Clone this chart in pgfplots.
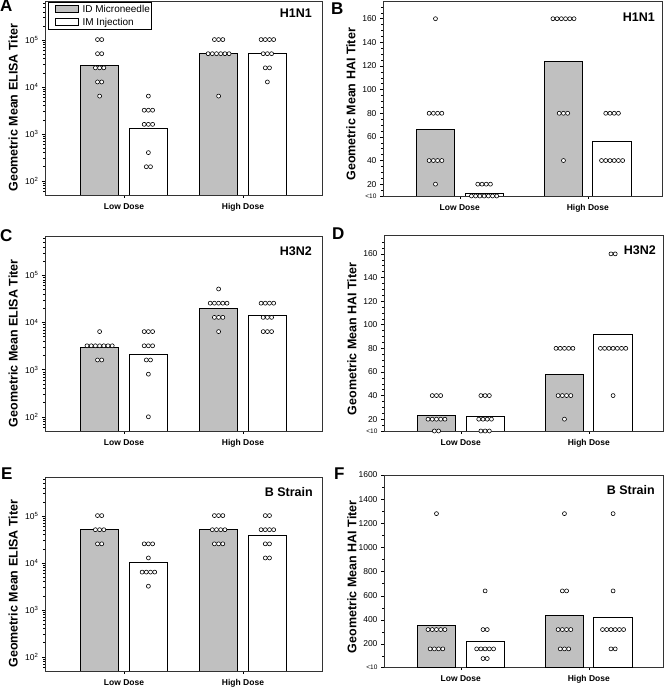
\documentclass[border=0pt]{standalone}
\usepackage{fontspec}
\setmainfont{Liberation Sans}
\usepackage{pgfplots}
\usepackage{pgfplotstable}
\pgfplotsset{compat=1.18}
\definecolor{barGray}{RGB}{192,192,192}
\newcommand\swatch[1]{{\setlength\fboxsep{0pt}\setlength\fboxrule{0.6pt}\fcolorbox{black}{#1}{\rule[-0.2pt]{0pt}{7pt}\hspace{22pt}}}}

% dot tables: g = dose (1 low, 2 high), s = -1 microneedle / +1 IM, k = position in row, y = titer
\pgfplotstableread{
g s k y
1 -1 -0.5 102400
1 -1 0.5 102400
1 -1 -0.5 51200
1 -1 0.5 51200
1 -1 -1 25600
1 -1 0 25600
1 -1 1 25600
1 -1 -0.5 12800
1 -1 0.5 12800
1 -1 0 6400
1 1 0 6400
1 1 -1 3200
1 1 0 3200
1 1 1 3200
1 1 -1 1600
1 1 0 1600
1 1 1 1600
1 1 0 400
1 1 -0.5 200
1 1 0.5 200
2 -1 -1 102400
2 -1 0 102400
2 -1 1 102400
2 -1 -2.5 51200
2 -1 -1.5 51200
2 -1 -0.5 51200
2 -1 0.5 51200
2 -1 1.5 51200
2 -1 2.5 51200
2 -1 0 6400
2 1 -1.5 102400
2 1 -0.5 102400
2 1 0.5 102400
2 1 1.5 102400
2 1 -1 51200
2 1 0 51200
2 1 1 51200
2 1 -0.5 25600
2 1 0.5 25600
2 1 0 12800
}\dotsA

\pgfplotstableread{
g s k y
1 -1 0 160
1 -1 -1.5 80
1 -1 -0.5 80
1 -1 0.5 80
1 -1 1.5 80
1 -1 -1.5 40
1 -1 -0.5 40
1 -1 0.5 40
1 -1 1.5 40
1 -1 0 20
1 1 -1.5 20
1 1 -0.5 20
1 1 0.5 20
1 1 1.5 20
1 1 -3 10
1 1 -2 10
1 1 -1 10
1 1 0 10
1 1 1 10
1 1 2 10
1 1 3 10
2 -1 -2.5 160
2 -1 -1.5 160
2 -1 -0.5 160
2 -1 0.5 160
2 -1 1.5 160
2 -1 2.5 160
2 -1 -1 80
2 -1 0 80
2 -1 1 80
2 -1 0 40
2 1 -1.5 80
2 1 -0.5 80
2 1 0.5 80
2 1 1.5 80
2 1 -2.5 40
2 1 -1.5 40
2 1 -0.5 40
2 1 0.5 40
2 1 1.5 40
2 1 2.5 40
}\dotsB

\pgfplotstableread{
g s k y
1 -1 0 6400
1 -1 -3 3200
1 -1 -2 3200
1 -1 -1 3200
1 -1 0 3200
1 -1 1 3200
1 -1 2 3200
1 -1 3 3200
1 -1 -0.5 1600
1 -1 0.5 1600
1 1 -1 6400
1 1 0 6400
1 1 1 6400
1 1 -1 3200
1 1 0 3200
1 1 1 3200
1 1 -0.5 1600
1 1 0.5 1600
1 1 0 800
1 1 0 100
2 -1 0 51200
2 -1 -2 25600
2 -1 -1 25600
2 -1 0 25600
2 -1 1 25600
2 -1 2 25600
2 -1 -1 12800
2 -1 0 12800
2 -1 1 12800
2 -1 0 6400
2 1 -1.5 25600
2 1 -0.5 25600
2 1 0.5 25600
2 1 1.5 25600
2 1 -1 12800
2 1 0 12800
2 1 1 12800
2 1 -1 6400
2 1 0 6400
2 1 1 6400
}\dotsC

\pgfplotstableread{
g s k y
1 -1 -1 40
1 -1 0 40
1 -1 1 40
1 -1 -2 20
1 -1 -1 20
1 -1 0 20
1 -1 1 20
1 -1 2 20
1 -1 -0.5 10
1 -1 0.5 10
1 1 -1 40
1 1 0 40
1 1 1 40
1 1 -1.5 20
1 1 -0.5 20
1 1 0.5 20
1 1 1.5 20
1 1 -1 10
1 1 0 10
1 1 1 10
2 -1 -2 80
2 -1 -1 80
2 -1 0 80
2 -1 1 80
2 -1 2 80
2 -1 -1.5 40
2 -1 -0.5 40
2 -1 0.5 40
2 -1 1.5 40
2 -1 0 20
2 1 -0.5 160
2 1 0.5 160
2 1 -3 80
2 1 -2 80
2 1 -1 80
2 1 0 80
2 1 1 80
2 1 2 80
2 1 3 80
2 1 0 40
}\dotsD

\pgfplotstableread{
g s k y
1 -1 -0.5 102400
1 -1 0.5 102400
1 -1 -1 51200
1 -1 0 51200
1 -1 1 51200
1 -1 -0.5 25600
1 -1 0.5 25600
1 1 -1 25600
1 1 0 25600
1 1 1 25600
1 1 0 12800
1 1 -1.5 6400
1 1 -0.5 6400
1 1 0.5 6400
1 1 1.5 6400
1 1 0 3200
2 -1 -1 102400
2 -1 0 102400
2 -1 1 102400
2 -1 -1.5 51200
2 -1 -0.5 51200
2 -1 0.5 51200
2 -1 1.5 51200
2 -1 -1 25600
2 -1 0 25600
2 -1 1 25600
2 1 -0.5 102400
2 1 0.5 102400
2 1 -1.5 51200
2 1 -0.5 51200
2 1 0.5 51200
2 1 1.5 51200
2 1 -0.5 25600
2 1 0.5 25600
2 1 -0.5 12800
2 1 0.5 12800
}\dotsE

\pgfplotstableread{
g s k y
1 -1 0 1280
1 -1 -2 320
1 -1 -1 320
1 -1 0 320
1 -1 1 320
1 -1 2 320
1 -1 -1.5 160
1 -1 -0.5 160
1 -1 0.5 160
1 -1 1.5 160
1 1 0 640
1 1 -0.5 320
1 1 0.5 320
1 1 -2 160
1 1 -1 160
1 1 0 160
1 1 1 160
1 1 2 160
1 1 -0.5 80
1 1 0.5 80
2 -1 0 1280
2 -1 -0.5 640
2 -1 0.5 640
2 -1 -1.5 320
2 -1 -0.5 320
2 -1 0.5 320
2 -1 1.5 320
2 -1 -1 160
2 -1 0 160
2 -1 1 160
2 1 0 1280
2 1 0 640
2 1 -2.5 320
2 1 -1.5 320
2 1 -0.5 320
2 1 0.5 320
2 1 1.5 320
2 1 2.5 320
2 1 -0.5 160
2 1 0.5 160
}\dotsF

\tikzset{strain/.style={anchor=north east, font=\bfseries\fontsize{12.5}{14}\selectfont, inner sep=0pt},
  letter/.style={anchor=north west, inner sep=0pt, font=\bfseries\fontsize{17}{18}\selectfont}}

\pgfplotsset{
  panel/.style={
    scale only axis, anchor=south west, clip mode=individual,
    axis line style={black!80, line width=0.8pt},
    tick align=outside, xtick pos=left, ytick pos=left,
    xtick={1,2}, xticklabels={Low Dose,High Dose},
    major tick length=3pt, minor tick length=1.8pt,
    tick style={black, line width=0.5pt},
    xticklabel style={font=\bfseries\fontsize{8.5}{10}\selectfont, yshift=-2pt},
    yticklabel style={font=\fontsize{8.5}{10}\selectfont},
    ylabel style={font=\bfseries\fontsize{12.5}{14}\selectfont, anchor=center},
  },
  elisa/.style={
    panel, ymin=50, ymax=6.8e5,
    xmin=0.336, xmax=2.664, width=277pt,
    ytick={100,1000,10000,100000},
    yticklabels={10\textsuperscript{2},10\textsuperscript{3},10\textsuperscript{4},10\textsuperscript{5}},
    minor ytick={60,70,80,90,200,300,400,500,600,700,800,900,2000,3000,4000,5000,6000,7000,8000,9000,20000,30000,40000,50000,60000,70000,80000,90000,200000,300000,400000,500000,600000},
    ylabel={Geometric Mean ELISA Titer},
    ylabel style={at={(axis description cs:-0.115,0.45)}},
  },
  hai/.style={
    panel, xmin=0.40, xmax=2.58, width=279pt, ymin=10,
    ylabel={Geometric Mean HAI Titer},
    ylabel style={at={(axis description cs:-0.115,0.47)}},
  },
  haiS/.style={
    hai, ymax=175,
    ytick={10,20,40,60,80,100,120,140,160},
    yticklabels={{\fontsize{6.5}{7}\selectfont <10},20,40,60,80,100,120,140,160},
    minor ytick={15,25,30,35,45,50,55,65,70,75,85,90,95,105,110,115,125,130,135,145,150,155,165,170},
  },
  gbar/.style={ybar, bar shift=0pt, fill=barGray, draw=black, line width=0.8pt},
  wbar/.style={ybar, bar shift=0pt, fill=white, draw=black, line width=0.8pt},
  dotm/.style={only marks, mark=*, mark size=2pt, mark options={fill=white, draw=black, line width=0.6pt}, forget plot},
}

\begin{document}
\begin{tikzpicture}
\useasboundingbox (0pt,0pt) rectangle (664pt,690pt);

% ---------- A ----------
\begin{axis}[ymode=log, elisa, at={(45pt,495pt)}, height=194pt]
\addplot[gbar, bar width=0.315] coordinates {(0.795,29400) (1.795,51200)};
\addplot[wbar, bar width=0.315] coordinates {(1.205,1300) (2.205,51200)};
\addplot[dotm] table[x expr=\thisrow{g}+\thisrow{s}*0.205+\thisrow{k}*0.0353, y=y] {\dotsA};
\node[strain] at ([xshift=-10pt,yshift=-8pt]rel axis cs:1,1) {H1N1};
\node[draw=black, line width=0.8pt, anchor=north west, inner xsep=1.5pt, inner ysep=2.5pt, align=left,
  font=\fontsize{10}{13}\selectfont, fill=white]
  at ([xshift=3pt,yshift=-1pt]rel axis cs:0,1)
  {\hspace{5.5pt}\swatch{barGray}\hspace{4pt}ID Microneedle\\ \hspace{5.5pt}\swatch{white}\hspace{4pt}IM Injection};
\end{axis}

% ---------- B ----------
\begin{axis}[haiS, at={(383pt,494pt)}, height=195pt]
\addplot[gbar, bar width=0.30] coordinates {(0.81,66) (1.81,124)};
\addplot[wbar, bar width=0.30] coordinates {(1.19,12) (2.19,56)};
\addplot[dotm] table[x expr=\thisrow{g}+\thisrow{s}*0.19+\thisrow{k}*0.033, y=y] {\dotsB};
\node[strain] at ([xshift=-7pt,yshift=-12pt]rel axis cs:1,1) {H1N1};
\end{axis}

% ---------- C ----------
\begin{axis}[ymode=log, elisa, at={(45pt,259pt)}, height=195pt]
\addplot[gbar, bar width=0.315] coordinates {(0.795,2950) (1.795,19500)};
\addplot[wbar, bar width=0.315] coordinates {(1.205,2100) (2.205,13900)};
\addplot[dotm] table[x expr=\thisrow{g}+\thisrow{s}*0.205+\thisrow{k}*0.0353, y=y] {\dotsC};
\node[strain] at ([xshift=-10pt,yshift=-11pt]rel axis cs:1,1) {H3N2};
\end{axis}

% ---------- D ----------
\begin{axis}[haiS, at={(384pt,259pt)}, height=196pt, ymax=176]
\addplot[gbar, bar width=0.30] coordinates {(0.81,23.5) (1.81,58)};
\addplot[wbar, bar width=0.30] coordinates {(1.19,22.5) (2.19,92)};
\addplot[dotm] table[x expr=\thisrow{g}+\thisrow{s}*0.19+\thisrow{k}*0.033, y=y] {\dotsD};
\node[strain] at ([xshift=-7pt,yshift=-11pt]rel axis cs:1,1) {H3N2};
\end{axis}

% ---------- E ----------
\begin{axis}[ymode=log, elisa, at={(45pt,19pt)}, height=194pt]
\addplot[gbar, bar width=0.315] coordinates {(0.795,51200) (1.795,51200)};
\addplot[wbar, bar width=0.315] coordinates {(1.205,10300) (2.205,39000)};
\addplot[dotm] table[x expr=\thisrow{g}+\thisrow{s}*0.205+\thisrow{k}*0.0353, y=y] {\dotsE};
\node[strain] at ([xshift=-9pt,yshift=-10pt]rel axis cs:1,1) {B Strain};
\end{axis}

% ---------- F ----------
\begin{axis}[hai, at={(384pt,23pt)}, height=192pt, ymax=1600,
  ytick={10,200,400,600,800,1000,1200,1400,1600},
  yticklabels={{\fontsize{6.5}{7}\selectfont <10},200,400,600,800,1000,1200,1400,1600},
  minor ytick={100,300,500,700,900,1100,1300,1500}]
\addplot[gbar, bar width=0.30] coordinates {(0.81,351) (1.81,434)};
\addplot[wbar, bar width=0.30] coordinates {(1.19,225) (2.19,418)};
\addplot[dotm] table[x expr=\thisrow{g}+\thisrow{s}*0.19+\thisrow{k}*0.033, y=y] {\dotsF};
\node[strain] at ([xshift=-8pt,yshift=-10pt]rel axis cs:1,1) {B Strain};
\end{axis}

% panel letters
\node[letter] at (0pt,690pt) {A};
\node[letter] at (331pt,687pt) {B};
\node[letter] at (0pt,461pt) {C};
\node[letter] at (332pt,462pt) {D};
\node[letter] at (1pt,222pt) {E};
\node[letter] at (334pt,222pt) {F};
\end{tikzpicture}
\end{document}
